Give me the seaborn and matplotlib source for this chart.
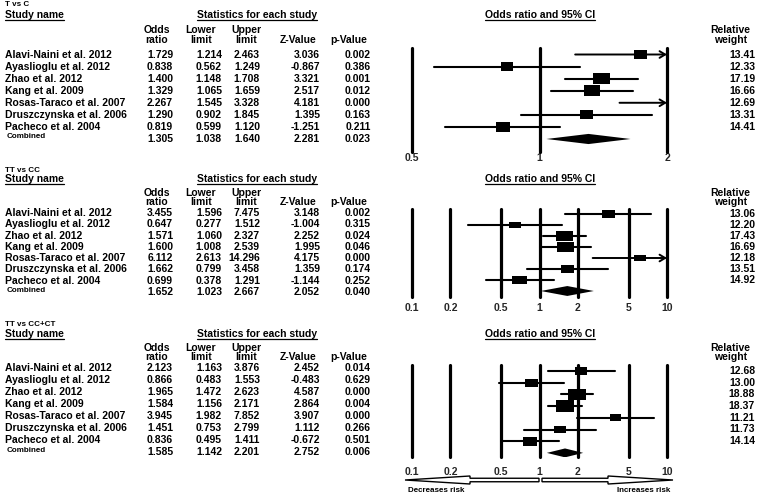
import numpy as np
import pandas as pd
import seaborn as sns
import matplotlib.pyplot as plt
from matplotlib.patches import FancyArrow

sns.set_theme(style="white")
plt.rcParams["font.family"] = ["Liberation Sans", "DejaVu Sans"]

studies = ["Alavi-Naini et al. 2012", "Ayaslioglu et al. 2012", "Zhao et al. 2012",
           "Kang et al. 2009", "Rosas-Taraco et al. 2007", "Druszczynska et al. 2006",
           "Pacheco et al. 2004"]

# T vs C
tc_or = [1.729, 0.838, 1.400, 1.329, 2.267, 1.290, 0.819]
tc_lo = [1.214, 0.562, 1.148, 1.065, 1.545, 0.902, 0.599]
tc_hi = [2.463, 1.249, 1.708, 1.659, 3.328, 1.845, 1.120]
tc_z = [3.036, -0.867, 3.321, 2.517, 4.181, 1.395, -1.251]
tc_p = [0.002, 0.386, 0.001, 0.012, 0.000, 0.163, 0.211]
tc_w = [13.41, 12.33, 17.19, 16.66, 12.69, 13.31, 14.41]
tc_comb = [1.305, 1.038, 1.640, 2.281, 0.023]

# TT vs CC
cc_or = [3.455, 0.647, 1.571, 1.600, 6.112, 1.662, 0.699]
cc_lo = [1.596, 0.277, 1.060, 1.008, 2.613, 0.799, 0.378]
cc_hi = [7.475, 1.512, 2.327, 2.539, 14.296, 3.458, 1.291]
cc_z = [3.148, -1.004, 2.252, 1.995, 4.175, 1.359, -1.144]
cc_p = [0.002, 0.315, 0.024, 0.046, 0.000, 0.174, 0.252]
cc_w = [13.06, 12.20, 17.43, 16.69, 12.18, 13.51, 14.92]
cc_comb = [1.652, 1.023, 2.667, 2.052, 0.040]

# TT vs CC+CT
ct_or = [2.123, 0.866, 1.965, 1.584, 3.945, 1.451, 0.836]
ct_lo = [1.163, 0.483, 1.472, 1.156, 1.982, 0.753, 0.495]
ct_hi = [3.876, 1.553, 2.623, 2.171, 7.852, 2.799, 1.411]
ct_z = [2.452, -0.483, 4.587, 2.864, 3.907, 1.112, -0.672]
ct_p = [0.014, 0.629, 0.000, 0.004, 0.000, 0.266, 0.501]
ct_w = [12.68, 13.00, 18.88, 18.37, 11.21, 11.73, 14.14]
ct_comb = [1.585, 1.142, 2.201, 2.752, 0.006]

ticks_narrow = [0.5, 1, 2]
ticks_wide = [0.1, 0.2, 0.5, 1, 2, 5, 10]
tick_labels_narrow = ["0.5", "1", "2"]
tick_labels_wide = ["0.1", "0.2", "0.5", "1", "2", "5", "10"]

W, H = 759, 496
fig = plt.figure(figsize=(W / 100, H / 100), dpi=100)
bg = fig.add_axes([0, 0, 1, 1])
bg.set_xlim(0, W)
bg.set_ylim(H, 0)
bg.axis("off")

FS = 7.5
SMALL = 5.8
underlined = []


def txt(x, y, s, ha="left", fs=FS, ul=False):
    t = bg.text(x, y, s, ha=ha, va="center", fontsize=fs, fontweight="bold", color="black")
    if ul:
        underlined.append(t)
    return t


def panel(title, y_title, y_head, y_h1, y_h2, t_row0, t_dr,
          f_top, f_bot, f_row0, f_dr, ors, los, his, zs, ps, ws, comb,
          ticks, tick_labels, pad, aspect, dh):
    # left table
    txt(5, y_title, title, fs=SMALL)
    txt(5, y_head, "Study name", ul=True)
    txt(257, y_head, "Statistics for each study", ha="center", ul=True)
    for x, a, b in [(157, "Odds", "ratio"), (201, "Lower", "limit"), (246, "Upper", "limit"),
                    (298, "", "Z-Value"), (349, "", "p-Value")]:
        if a:
            txt(x, y_h1, a, ha="center")
        txt(x, y_h2, b, ha="center")
    cols = [173, 222, 260, 320, 371]
    for i, name in enumerate(studies):
        y = t_row0 + i * t_dr
        txt(5, y, name)
        for x, v in zip(cols, [ors[i], los[i], his[i], zs[i], ps[i]]):
            txt(x, y, f"{v:.3f}", ha="right")
    y = t_row0 + 7 * t_dr
    txt(7, y - 2, "Combined", fs=SMALL)
    for x, v in zip(cols, comb):
        txt(x, y, f"{v:.3f}", ha="right")

    # right headers
    txt(540, y_head, "Odds ratio and 95% CI", ha="center", ul=True)
    txt(730, y_h1, "Relative", ha="center")
    txt(731, y_h2, "weight", ha="center")

    # forest axes
    x0, x1 = 412, 667
    ax = fig.add_axes([x0 / W, 1 - f_bot / H, (x1 - x0) / W, (f_bot - f_top) / H])
    ax.patch.set_visible(False)
    xmin, xmax = ticks[0], ticks[-1]
    for t in ticks:
        ax.axvline(t, color="black", lw=2.3, clip_on=False, zorder=1)

    df = pd.DataFrame({"or": ors, "w": ws, "row": np.arange(len(ors))})
    for i in range(len(ors)):
        lo = max(los[i], xmin)
        if his[i] > xmax:
            ax.annotate("", xy=(xmax, i), xytext=(lo, i),
                        arrowprops=dict(arrowstyle="->,head_length=0.5,head_width=0.3",
                                        lw=1.4, color="black", shrinkA=0, shrinkB=0,
                                        mutation_scale=8))
        else:
            ax.plot([lo, his[i]], [i, i], color="black", lw=1.5, zorder=2)

    mk = [(-aspect, -1), (aspect, -1), (aspect, 1), (-aspect, 1), (-aspect, -1)]
    sizes = {w: (w * 0.98 * 0.72) ** 2 for w in ws}
    sns.scatterplot(data=df, x="or", y="row", size="w", sizes=sizes, marker=mk,
                    color="black", edgecolor="black", linewidth=0, legend=False,
                    ax=ax, zorder=3)
    c, lo, hi = comb[0], comb[1], comb[2]
    r = len(ors)
    ax.fill([lo, c, hi, c], [r, r - dh, r, r + dh], color="black", lw=0, zorder=3)

    ax.set_xscale("log")
    ax.set_xlim(xmin, xmax)
    ax.set_ylim((f_bot - f_row0) / f_dr, -(f_row0 - f_top) / f_dr)
    ax.set_xticks(ticks)
    ax.set_xticklabels(tick_labels, fontweight="bold", fontsize=FS)
    ax.minorticks_off()
    ax.tick_params(axis="x", length=0, pad=pad)
    ax.set_yticks([])
    ax.set_xlabel("")
    ax.set_ylabel("")
    for s in ax.spines.values():
        s.set_visible(False)

    for i, w in enumerate(ws):
        txt(755, f_row0 + i * f_dr, f"{w:.2f}", ha="right")
    return ax


panel("T vs C", 5, 15, 30, 40, 55, 12.0, 48, 152, 54.5, 12.07,
      tc_or, tc_lo, tc_hi, tc_z, tc_p, tc_w, tc_comb,
      ticks_narrow, tick_labels_narrow, 0.5, 1.45, 0.42)
panel("TT vs CC", 170, 179, 193, 202, 213, 11.3, 209, 297, 214, 11.0,
      cc_or, cc_lo, cc_hi, cc_z, cc_p, cc_w, cc_comb,
      ticks_wide, tick_labels_wide, 4.0, 1.8, 0.45)
panel("TT vs CC+CT", 325, 334, 348, 357, 368, 12.0, 365, 457, 371, 11.7,
      ct_or, ct_lo, ct_hi, ct_z, ct_p, ct_w, ct_comb,
      ticks_wide, tick_labels_wide, 7.5, 1.6, 0.38)

# risk arrows under the bottom panel
bg.add_patch(FancyArrow(539, 480, -134, 0, width=3.5, head_width=8, head_length=65,
                        length_includes_head=True, facecolor="white", edgecolor="black", lw=1.0))
bg.add_patch(FancyArrow(542, 480, 131, 0, width=3.5, head_width=8, head_length=65,
                        length_includes_head=True, facecolor="white", edgecolor="black", lw=1.0))
txt(408, 490, "Decreases risk", fs=SMALL)
txt(670, 490, "Increases risk", ha="right", fs=SMALL)

fig.canvas.draw()
renderer = fig.canvas.get_renderer()
for t in underlined:
    bb = t.get_window_extent(renderer)
    bg.plot([bb.x0, bb.x1], [H - bb.y0, H - bb.y0], color="black", lw=0.9)

fig.savefig("out.png", dpi=100)
